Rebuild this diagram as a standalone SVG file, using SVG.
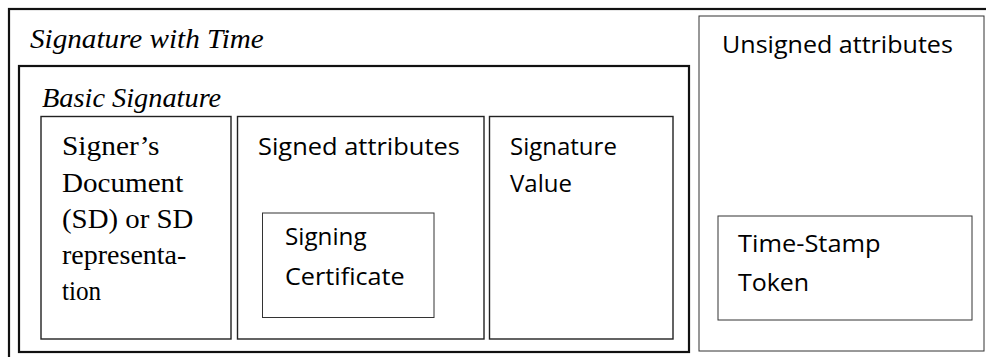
<svg xmlns="http://www.w3.org/2000/svg" width="986" height="357" viewBox="0 0 986 357">
<style>
  .box { fill: none; stroke: #111; }
  .thick { stroke-width: 2.2; }
  .mid { stroke-width: 1.4; stroke: #222; }
  .thin { stroke-width: 1; stroke: #333; }
  text { fill: #000; }
</style>
<rect width="986" height="357" fill="#fff"/>
<g id="signature-with-time">
  <rect class="box thick" x="9" y="9" width="990" height="360"/>
  <text transform="translate(30,48) scale(1.08,1)" font-family="'Liberation Serif', 'Times New Roman', serif" font-style="italic" font-size="27">Signature with Time</text>
</g>
<g id="basic-signature">
  <rect class="box thick" x="19" y="66" width="670" height="286"/>
  <text transform="translate(42,107) scale(1.05,1)" font-family="'Liberation Serif', 'Times New Roman', serif" font-style="italic" font-size="27">Basic Signature</text>
</g>
<g id="signers-document" font-family="'Liberation Serif', 'Times New Roman', serif" font-size="28">
  <rect class="box mid" x="41" y="116.5" width="190" height="222.5"/>
  <text transform="translate(62,155) scale(1.05,1)">Signer’s</text>
  <text transform="translate(62,191.5) scale(1.04,1)">Document</text>
  <text transform="translate(62,227.5) scale(1.03,1)">(SD) or SD</text>
  <text transform="translate(62,263.5) scale(1.0,1)">representa-</text>
  <text transform="translate(62,299.5) scale(0.9,1)">tion</text>
</g>
<g id="signed-attributes" font-family="'Open Sans', 'Liberation Sans', sans-serif" font-size="24">
  <rect class="box mid" x="237.5" y="116.5" width="246.5" height="222.5"/>
  <text transform="translate(258,155) scale(1.06,1)">Signed attributes</text>
</g>
<g id="signing-certificate" font-family="'Open Sans', 'Liberation Sans', sans-serif" font-size="24">
  <rect class="box thin" x="262.5" y="213" width="171.5" height="104.5"/>
  <text transform="translate(285,245) scale(1.01,1)">Signing</text>
  <text transform="translate(285,285) scale(1.05,1)">Certificate</text>
</g>
<g id="signature-value" font-family="'Open Sans', 'Liberation Sans', sans-serif" font-size="24">
  <rect class="box mid" x="489.5" y="116.5" width="183.5" height="222.5"/>
  <text transform="translate(510,155)">Signature</text>
  <text transform="translate(510,192)">Value</text>
</g>
<g id="unsigned-attributes" font-family="'Open Sans', 'Liberation Sans', sans-serif" font-size="24">
  <rect class="box thin" x="699" y="16" width="285" height="335"/>
  <text transform="translate(722,53) scale(1.045,1)">Unsigned attributes</text>
</g>
<g id="time-stamp-token" font-family="'Open Sans', 'Liberation Sans', sans-serif" font-size="24">
  <rect class="box thin" x="718" y="216" width="254" height="104"/>
  <text transform="translate(738,252) scale(1.06,1)">Time-Stamp</text>
  <text transform="translate(738,291) scale(1.04,1)">Token</text>
</g>
<g id="connectors"/>
</svg>
